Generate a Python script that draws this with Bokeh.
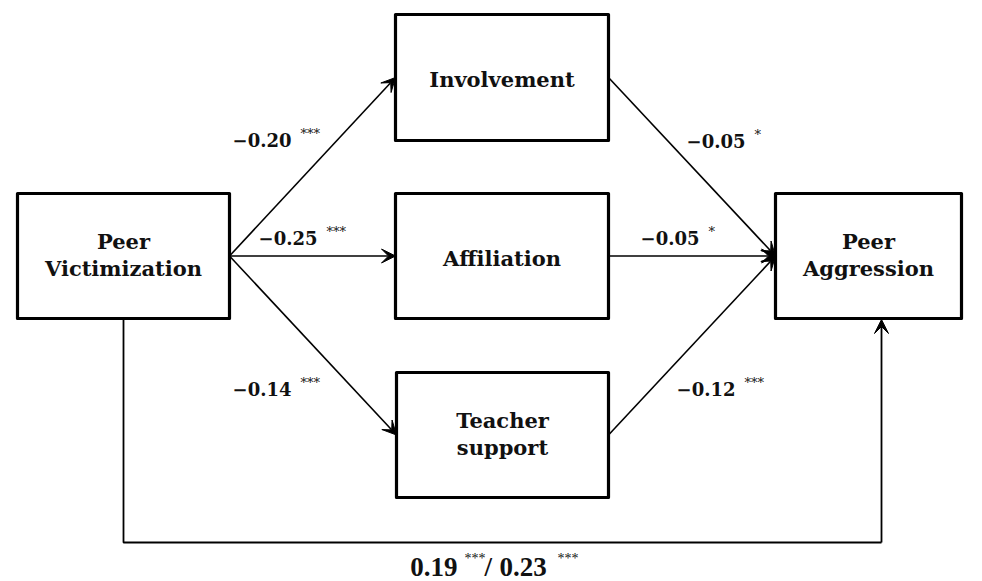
from bokeh.plotting import figure
from bokeh.models import Range1d, Arrow, VeeHead
from bokeh.core.properties import value
from bokeh.embed import file_html
from bokeh.resources import INLINE

# ---- data ----
node_labels = ["Peer\nVictimization", "Involvement", "Affiliation", "Teacher\nsupport", "Peer\nAggression"]
path_coefs = ["\u22120.20", "\u22120.25", "\u22120.14", "\u22120.05", "\u22120.05", "\u22120.12"]
path_sig = ["***", "***", "***", "*", "*", "***"]
direct_coefs = ["0.19", "0.23"]
direct_sig = ["***", "***"]

# ---- layout (pixel-like coordinates, y downward) ----
W, H = 980, 580
p = figure(width=W, height=H, output_backend="svg", toolbar_location=None,
           x_range=Range1d(0, W), y_range=Range1d(H, 0),
           min_border=0, outline_line_color=None)
p.axis.visible = False
p.grid.visible = False
p.background_fill_color = "white"
p.border_fill_color = "white"

# boxes: left, right, top, bottom
box_l = [17, 395, 395, 396, 775]
box_r = [229, 608, 608, 608, 961]
box_t = [193, 14, 193, 372, 193]
box_b = [318, 140, 318, 497, 318]
p.quad(left=box_l, right=box_r, top=box_t, bottom=box_b,
       fill_color="white", line_color="black", line_width=3.2, line_join="round")

FONT = value("DejaVu Serif")
cx = [(l + r) / 2 for l, r in zip(box_l, box_r)]
cy = [(t + b) / 2 for t, b in zip(box_t, box_b)]
ty = [c + (2 if "\n" not in s else -1) for c, s in zip(cy, node_labels)]
p.text(x=cx, y=ty, text=node_labels, text_font=FONT, text_font_style="bold",
       text_font_size="21px", text_align="center", text_baseline="middle",
       text_line_height=1.05, text_color="#111111")

# arrows
def mid(i, side):
    return (box_r[i] if side == "r" else box_l[i]), cy[i]

edges = [(0, 1), (0, 2), (0, 3), (1, 4), (2, 4), (3, 4)]
for a, b in edges:
    x0, y0 = mid(a, "r")
    x1, y1 = mid(b, "l")
    p.add_layout(Arrow(x_start=x0, y_start=y0, x_end=x1, y_end=y1, line_width=1.6,
                       line_color="black",
                       end=VeeHead(size=14, fill_color="black", line_color="black", line_width=1)))

# direct path
bx0 = cx[0]
bx1 = 881
by = 542
p.line(x=[bx0, bx0, bx1], y=[box_b[0], by, by], line_width=1.8, line_color="black")
p.add_layout(Arrow(x_start=bx1, y_start=by, x_end=bx1, y_end=box_b[4] + 1, line_width=1.8,
                   line_color="black",
                   end=VeeHead(size=14, fill_color="black", line_color="black", line_width=1)))

# coefficient labels (right edge of number, vertical centre)
lab_x = [291, 317, 291, 745, 699, 735]
lab_y = [139, 237, 388, 140, 237, 388]
p.text(x=lab_x, y=lab_y, text=path_coefs, text_font=FONT, text_font_style="bold",
       text_font_size="18px", text_align="right", text_baseline="middle", text_color="#111111")
p.text(x=[x + 9 for x in lab_x], y=[y - 6 for y in lab_y], text=path_sig, text_font=FONT,
       text_font_size="13px", text_align="left", text_baseline="middle", text_color="#111111")

# direct effect label
TFONT = value("Liberation Serif")
p.text(x=[457], y=[566], text=[direct_coefs[0]], text_font=TFONT, text_font_style="bold",
       text_font_size="27px", text_align="right", text_baseline="middle", text_color="#111111")
p.text(x=[464], y=[558], text=[direct_sig[0]], text_font=TFONT,
       text_font_size="14px", text_align="left", text_baseline="middle", text_color="#111111")
p.text(x=[484], y=[566], text=["/"], text_font=TFONT, text_font_style="bold",
       text_font_size="27px", text_align="left", text_baseline="middle", text_color="#111111")
p.text(x=[499], y=[566], text=[direct_coefs[1]], text_font=TFONT, text_font_style="bold",
       text_font_size="27px", text_align="left", text_baseline="middle", text_color="#111111")
p.text(x=[557], y=[558], text=[direct_sig[1]], text_font=TFONT,
       text_font_size="14px", text_align="left", text_baseline="middle", text_color="#111111")

open("out.html", "w").write(file_html(p, INLINE))
